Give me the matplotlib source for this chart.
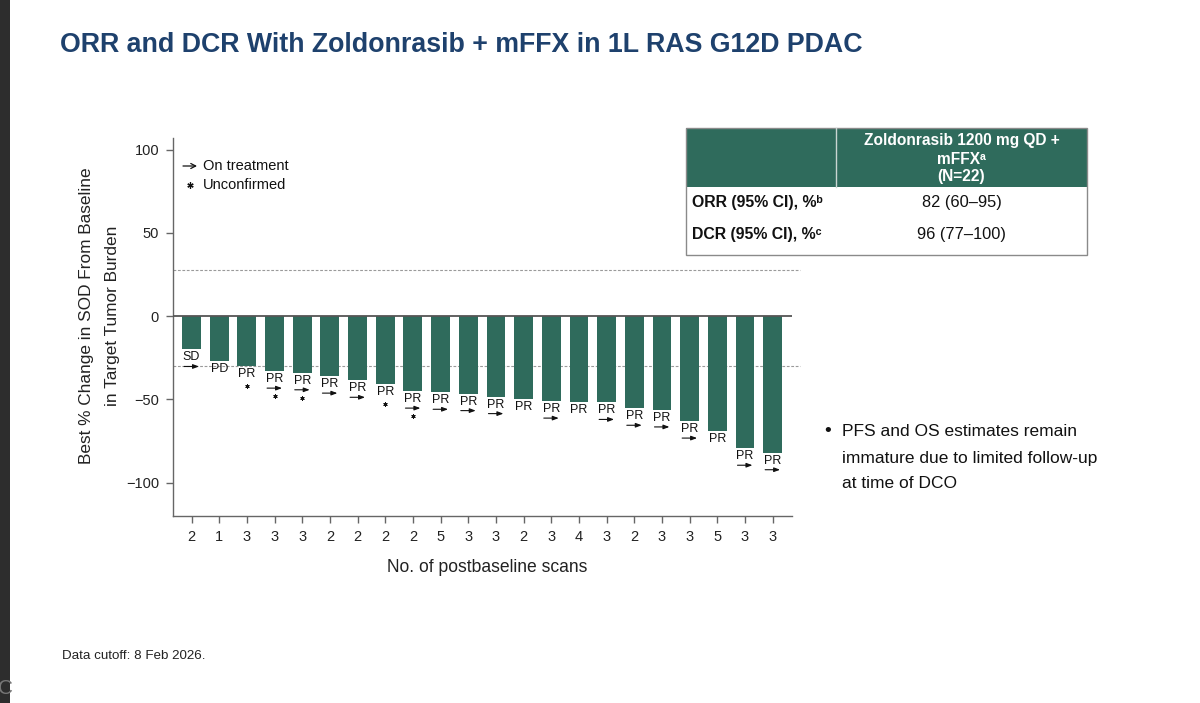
import matplotlib
matplotlib.use("Agg")
import matplotlib.pyplot as plt
from matplotlib.patches import Rectangle
from matplotlib.lines import Line2D
from matplotlib.transforms import offset_copy

# ---------------- data ----------------
best_change = [-20, -27, -30, -33, -34, -36, -38.5, -41, -45, -45.7, -46.5,
               -48.3, -50, -51, -51.3, -51.8, -55.3, -56.3, -63, -68.7, -79.3, -82]
responses = ["SD", "PD"] + ["PR"] * 20
on_treatment = [1, 0, 0, 1, 1, 1, 1, 0, 1, 1, 1, 1, 0, 1, 0, 1, 1, 1, 1, 0, 1, 1]
unconfirmed = [0, 0, 1, 1, 1, 0, 0, 1, 1, 0, 0, 0, 0, 0, 0, 0, 0, 0, 0, 0, 0, 0]
scans = [2, 1, 3, 3, 3, 2, 2, 2, 2, 5, 3, 3, 2, 3, 4, 3, 2, 3, 3, 5, 3, 3]
y_ticks = [-100, -50, 0, 50, 100]
ref_lines = [28, -30]

table_header = ["Zoldonrasib 1200 mg QD +", "mFFX\u1d43", "(N=22)"]
table_rows = ["ORR (95% CI), %\u1d47", "DCR (95% CI), %\u1d9c"]
table_values = ["82 (60\u201395)", "96 (77\u2013100)"]

title = "ORR and DCR With Zoldonrasib + mFFX in 1L RAS G12D PDAC"
ylabel_lines = ["Best % Change in SOD From Baseline", "in Target Tumor Burden"]
xlabel = "No. of postbaseline scans"
bullet_lines = ["PFS and OS estimates remain", "immature due to limited follow-up",
                "at time of DCO"]
footnote = "Data cutoff: 8 Feb 2026."

# ---------------- style ----------------
W, H = 1200, 703
BAR = "#2f6b5c"
NAVY = "#1e416d"
INK = "#111111"
SANS = ["Liberation Sans", "DejaVu Sans"]

def fx(x):
    return x / W

def fy(y):
    return 1 - y / H

fig = plt.figure(figsize=(12, 7.03), dpi=100)
fig.patch.set_facecolor("white")

def fit(t, target, vertical=False):
    fig.canvas.draw()
    bb = t.get_window_extent()
    size = bb.height if vertical else bb.width
    t.set_fontsize(t.get_fontsize() * target / size)

# screenshot strip on left
fig.add_artist(Rectangle((0, 0), fx(10), 1, transform=fig.transFigure,
                         facecolor="#2d2d2d", edgecolor="none"))

ax = fig.add_axes([fx(173), fy(516), fx(792) - fx(173), fy(138) - fy(516)])
x = list(range(len(best_change)))
ax.bar(x, best_change, width=0.68, color=BAR, zorder=2)
ax.set_xlim(-0.67, len(best_change) - 1 + 0.7)
ax.set_ylim(-120, 107)

ax.axhline(0, color="#555555", lw=1.3, zorder=3)
for r in ref_lines:
    ax.plot([-0.67, len(best_change) - 1 + 1.0], [r, r], ls=(0, (2.5, 1.5)),
            color="#9a9a9a", lw=0.8, clip_on=False, zorder=1)

for s in ["top", "right"]:
    ax.spines[s].set_visible(False)
for s in ["left", "bottom"]:
    ax.spines[s].set_color("#666666")
    ax.spines[s].set_linewidth(1.0)

ax.set_yticks(y_ticks)
ax.set_yticklabels([str(v).replace("-", "\u2212") for v in y_ticks],
                   fontfamily=SANS, fontsize=10.5, color="#222222")
ax.set_xticks(x)
ax.set_xticklabels([str(s) for s in scans], fontfamily=SANS, fontsize=10.5,
                   color="#222222")
ax.tick_params(axis="both", length=5, width=1, color="#666666", pad=5)

# annotations under bars: response label, arrow (on treatment), asterisk (unconfirmed)
for i, v in enumerate(best_change):
    off = -8
    ax.annotate(responses[i], (i, v), xytext=(0, off), textcoords="offset pixels",
                ha="center", va="center", fontsize=9, fontfamily=SANS,
                color=INK, zorder=4)
    if on_treatment[i]:
        off -= 9
        tr_ = offset_copy(ax.transData, fig=fig, x=0, y=off, units="dots")
        ax.annotate("", xy=(i + 0.27, v), xycoords=tr_, xytext=(i - 0.27, v),
                    textcoords=tr_,
                    arrowprops=dict(arrowstyle="-|>,head_length=0.35,head_width=0.13",
                                    color=INK, lw=0.8, shrinkA=0, shrinkB=0))
    if unconfirmed[i]:
        off -= 8 if on_treatment[i] else 12
        tr_ = offset_copy(ax.transData, fig=fig, x=0, y=off, units="dots")
        ax.plot([i], [v], transform=tr_, marker=(6, 2, 0), ms=3.0, mew=0.7,
                color=INK, clip_on=False, ls="none")

# legend
ax.annotate("", xy=(fx(197), fy(166)), xycoords="figure fraction",
            xytext=(fx(183), fy(166)), textcoords="figure fraction",
            arrowprops=dict(arrowstyle="->,head_length=0.35,head_width=0.18",
                            color=INK, lw=0.9, shrinkA=0, shrinkB=0))
fig.text(fx(203), fy(166), "On treatment", fontsize=10.5, fontfamily=SANS,
         va="center", ha="left", color=INK)
fig.add_artist(Line2D([fx(190)], [fy(185)], transform=fig.transFigure, marker=(6, 2, 0),
                      ms=4.5, mew=0.9, color=INK, ls="none"))
fig.text(fx(203), fy(185), "Unconfirmed", fontsize=10.5, fontfamily=SANS,
         va="center", ha="left", color=INK)

# axis labels
yl1 = fig.text(fx(87), fy(316), ylabel_lines[0], rotation=90, ha="center", va="center",
               fontsize=15, fontfamily=SANS, color="#222222")
fit(yl1, 298, vertical=True)
fig.text(fx(113), fy(316), ylabel_lines[1], rotation=90, ha="center", va="center",
         fontsize=yl1.get_fontsize(), fontfamily=SANS, color="#222222")
xl = fig.text(fx(487), fy(567), xlabel, ha="center", va="center",
              fontsize=15, fontfamily=SANS, color="#222222")
fit(xl, 201)

# title (fit width)
t = fig.text(fx(60), fy(45), title, ha="left", va="center", fontsize=26,
             fontweight="bold", fontfamily=SANS, color=NAVY)
fit(t, 862 - 60)

# table
tl, tr, tt, thb, tb = 686, 1087, 128, 187, 255
divx = 836
fig.add_artist(Rectangle((fx(tl), fy(thb)), fx(tr) - fx(tl), fy(tt) - fy(thb),
                         transform=fig.transFigure, facecolor=BAR, edgecolor="none"))
fig.add_artist(Rectangle((fx(tl), fy(tb)), fx(tr) - fx(tl), fy(tt) - fy(tb),
                         transform=fig.transFigure, facecolor="none",
                         edgecolor="#8a8a8a", lw=1.0))
fig.add_artist(Line2D([fx(divx), fx(divx)], [fy(tt), fy(thb)], transform=fig.transFigure,
                      color="#c9d6d2", lw=1.0))
cx = (divx + tr) / 2
for k, line in enumerate(table_header):
    fig.text(fx(cx), fy(141 + 18 * k), line, ha="center", va="center", fontsize=11.2,
             fontweight="bold", fontfamily=SANS, color="white")
for k, (lab, val) in enumerate(zip(table_rows, table_values)):
    yy = 202 + 33 * k
    fig.text(fx(692), fy(yy), lab, ha="left", va="center", fontsize=11.4,
             fontweight="bold", fontfamily=SANS, color=INK)
    fig.text(fx(cx), fy(yy), val, ha="center", va="center", fontsize=11.8,
             fontfamily=SANS, color=INK)

# bullet
fig.text(fx(828), fy(432), "\u2022", ha="center", va="center", fontsize=14,
         fontfamily=SANS, color=INK)
b0 = fig.text(fx(842), fy(432), bullet_lines[0], ha="left", va="center", fontsize=15,
              fontfamily=SANS, color=INK)
fit(b0, 235)
for k, line in enumerate(bullet_lines[1:], start=1):
    fig.text(fx(842), fy(432 + 26 * k), line, ha="left", va="center",
             fontsize=b0.get_fontsize(), fontfamily=SANS, color=INK)

# footnote
fn = fig.text(fx(62), fy(656), footnote, ha="left", va="center",
              fontsize=11, fontfamily=SANS, color="#222222")
fit(fn, 143)
fig.text(fx(-2), fy(688), "C", ha="left", va="center", fontsize=15,
         fontfamily=SANS, color="#777777")

fig.savefig("out.png", dpi=100, facecolor="white")
